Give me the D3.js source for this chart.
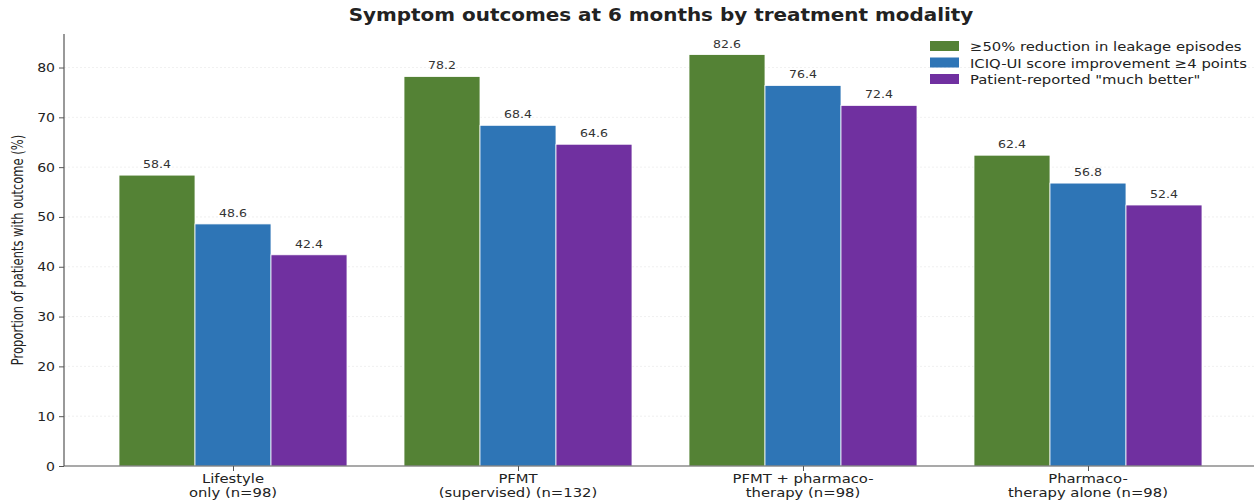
<!DOCTYPE html>
<html>
<head>
<meta charset="utf-8">
<script src="https://cdn.jsdelivr.net/npm/d3@7"></script>
<style>
  html, body { margin: 0; padding: 0; background: #fff; }
  svg { display: block; }
</style>
</head>
<body>
<svg id="chart" width="1254" height="500"></svg>
<script>
// Treatment groups (two-line labels) and outcome series
const groupLines = [
  ["Lifestyle", "only (n=98)"],
  ["PFMT", "(supervised) (n=132)"],
  ["PFMT + pharmaco-", "therapy (n=98)"],
  ["Pharmaco-", "therapy alone (n=98)"]
];
const seriesNames = [
  "\u226550% reduction in leakage episodes",
  "ICIQ-UI score improvement \u22654 points",
  "Patient-reported \"much better\""
];
const leakageReduction = [58.4, 78.2, 82.6, 62.4];
const iciqImprovement = [48.6, 68.4, 76.4, 56.8];
const muchBetter = [42.4, 64.6, 72.4, 52.4];
const yTicks = [0, 10, 20, 30, 40, 50, 60, 70, 80];
const seriesColors = ["#548235", "#2E75B6", "#7030A0"];

const seriesValues = [leakageReduction, iciqImprovement, muchBetter];

const svg = d3.select("#chart");
const plot = { left: 64, right: 1257, top: 34, bottom: 466 };
const SX = 1.14; // horizontal stretch of the lettering

const x = d3.scaleLinear().domain([-0.593, 3.593]).range([plot.left, plot.right]);
const y = d3.scaleLinear().domain([0, 86.73]).range([plot.bottom, plot.top]);

const groupWidth = 0.8;
const barW = groupWidth / seriesValues.length;

// text placed at (px, py) and widened horizontally around that point
function label(parent, px, py, opts) {
  const t = parent.append("text")
    .attr("transform", `translate(${px},${py}) scale(${opts.sx || SX},1)`)
    .attr("text-anchor", opts.anchor || "start")
    .attr("font-family", "DejaVu Sans")
    .attr("font-size", opts.size)
    .attr("font-weight", opts.weight || "normal")
    .attr("fill", opts.fill || "#222");
  return t;
}

// horizontal grid
svg.append("g").selectAll("line").data(yTicks.filter(t => t > 0)).join("line")
  .attr("x1", plot.left).attr("x2", plot.right)
  .attr("y1", d => y(d)).attr("y2", d => y(d))
  .attr("stroke", "#ececec").attr("stroke-width", 0.8)
  .attr("stroke-dasharray", "2,2");

// bars
seriesValues.forEach((vals, s) => {
  const g = svg.append("g");
  vals.forEach((v, i) => {
    const x0 = x(i - groupWidth / 2 + s * barW);
    const x1 = x(i - groupWidth / 2 + (s + 1) * barW);
    g.append("rect")
      .attr("x", x0).attr("y", y(v))
      .attr("width", x1 - x0).attr("height", y(0) - y(v))
      .attr("fill", seriesColors[s])
      .attr("stroke", "#ffffff").attr("stroke-width", 0.8);
    label(g, (x0 + x1) / 2, y(v) - 7, { size: 11, anchor: "middle", fill: "#333" })
      .text(v.toFixed(1));
  });
});

// y axis
const yAxis = d3.axisLeft(y).tickValues(yTicks).tickSize(5).tickFormat("");
const yg = svg.append("g").attr("transform", `translate(${plot.left},0)`).call(yAxis);
yg.select(".domain").attr("d", `M0,${plot.bottom}V${plot.top}`).attr("stroke", "#555").attr("stroke-width", 1.2);
yg.selectAll(".tick line").attr("stroke", "#555");
yTicks.forEach(t => {
  label(svg, plot.left - 9, y(t) + 4.5, { size: 13, anchor: "end", sx: 1.08 }).text(d3.format("d")(t));
});

// x axis
const xAxis = d3.axisBottom(x).tickValues(d3.range(groupLines.length)).tickSize(5).tickFormat(() => "");
const xg = svg.append("g").attr("transform", `translate(0,${plot.bottom})`).call(xAxis);
xg.select(".domain").attr("d", `M${plot.left},0H${plot.right}`).attr("stroke", "#555").attr("stroke-width", 1.2);
xg.selectAll(".tick line").attr("stroke", "#555");
groupLines.forEach((lines, i) => {
  const t = label(svg, x(i), plot.bottom + 17, { size: 13, anchor: "middle" });
  lines.forEach((ln, k) => {
    t.append("tspan").attr("x", 0).attr("dy", k === 0 ? 0 : 14).text(ln);
  });
});

// y label (narrow lettering along its length)
svg.append("text")
  .attr("transform", `translate(23,${(plot.top + plot.bottom) / 2}) scale(1.28,0.885) rotate(-90)`)
  .attr("text-anchor", "middle")
  .attr("font-family", "DejaVu Sans")
  .attr("font-size", 13).attr("fill", "#222")
  .text("Proportion of patients with outcome (%)");

// title
label(svg, 661, 21, { size: 17.5, anchor: "middle", weight: "bold" })
  .text("Symptom outcomes at 6 months by treatment modality");

// legend
const legend = svg.append("g").attr("transform", "translate(930,41)");
seriesNames.forEach((name, s) => {
  const row = legend.append("g").attr("transform", `translate(0,${s * 16.5})`);
  row.append("rect").attr("x", 0).attr("y", 0).attr("width", 29).attr("height", 10)
    .attr("fill", seriesColors[s]);
  label(row, 40, 10, { size: 13 }).text(name);
});
</script>
</body>
</html>
